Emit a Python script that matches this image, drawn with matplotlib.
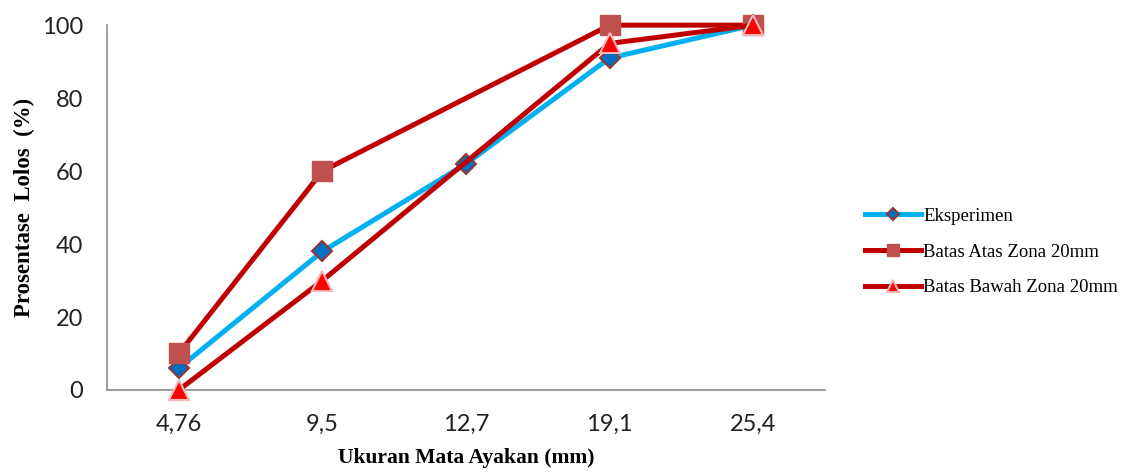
import numpy as np
import matplotlib.pyplot as plt

# ------------------------------------------------------------------
# DATA
# ------------------------------------------------------------------
sieve_sizes = ['4,76', '9,5', '12,7', '19,1', '25,4']
eksperimen = [6, 38, 62, 91, 100]
batas_atas = [10, 60, np.nan, 100, 100]
batas_bawah = [0, 30, np.nan, 95, 100]


def valid(values):
    x = np.arange(len(values))
    v = np.array(values, dtype=float)
    m = ~np.isnan(v)
    return x[m], v[m]


# ------------------------------------------------------------------
# PLOT
# ------------------------------------------------------------------
fig = plt.figure(figsize=(11.21, 4.75), dpi=100)
ax = fig.add_axes([0.0955, 0.179, 0.6405, 0.768])

x, y = valid(eksperimen)
ax.plot(x, y, color='#00B0F0', linewidth=3.6, marker='D', markersize=10,
        markerfacecolor='#0070C0', markeredgecolor='#953735', markeredgewidth=1.5,
        label='Eksperimen', zorder=2)

x, y = valid(batas_atas)
ax.plot(x, y, color='#C00000', linewidth=3.6, marker='s', markersize=14.5,
        markerfacecolor='#C0504D', markeredgecolor='#C0504D',
        label='Batas Atas Zona 20mm', zorder=3)

x, y = valid(batas_bawah)
ax.plot(x, y, color='#C00000', linewidth=3.6, marker='^', markersize=14.5,
        markerfacecolor='#FF0000', markeredgecolor='#F2B8B8', markeredgewidth=1.5,
        label='Batas Bawah Zona 20mm', zorder=4)

ax.set_xlim(-0.5, 4.5)
ax.set_ylim(0, 100)
ax.set_xticks(range(len(sieve_sizes)))
ax.set_xticklabels(sieve_sizes)
ax.set_yticks(range(0, 101, 20))
ax.tick_params(length=0, labelsize=17)
ax.tick_params(axis='x', pad=17)
ax.tick_params(axis='y', pad=17)
for lab in ax.get_xticklabels() + ax.get_yticklabels():
    lab.set_family('Lato')
    lab.set_color('#222222')

for side in ['top', 'right']:
    ax.spines[side].set_visible(False)
for side in ['left', 'bottom']:
    ax.spines[side].set_color('#8C8C8C')
    ax.spines[side].set_linewidth(1.2)
for artist in ax.get_lines():
    artist.set_clip_on(False)

ax.set_xlabel('Ukuran Mata Ayakan (mm)', family='Liberation Serif',
              fontweight='bold', fontsize=15.5, labelpad=10)
ax.set_ylabel('Prosentase  Lolos  (%)', family='Liberation Serif',
              fontweight='bold', fontsize=16.5, labelpad=5)

fig.legend(loc='center left', bbox_to_anchor=(865 / 1121, 1 - 252 / 475),
           frameon=False, borderpad=0, borderaxespad=0,
           prop={'family': 'Liberation Serif', 'size': 13.5},
           handlelength=3.0, handletextpad=0.1, labelspacing=1.0,
           markerscale=0.6)

plt.savefig('out.png', dpi=100)
